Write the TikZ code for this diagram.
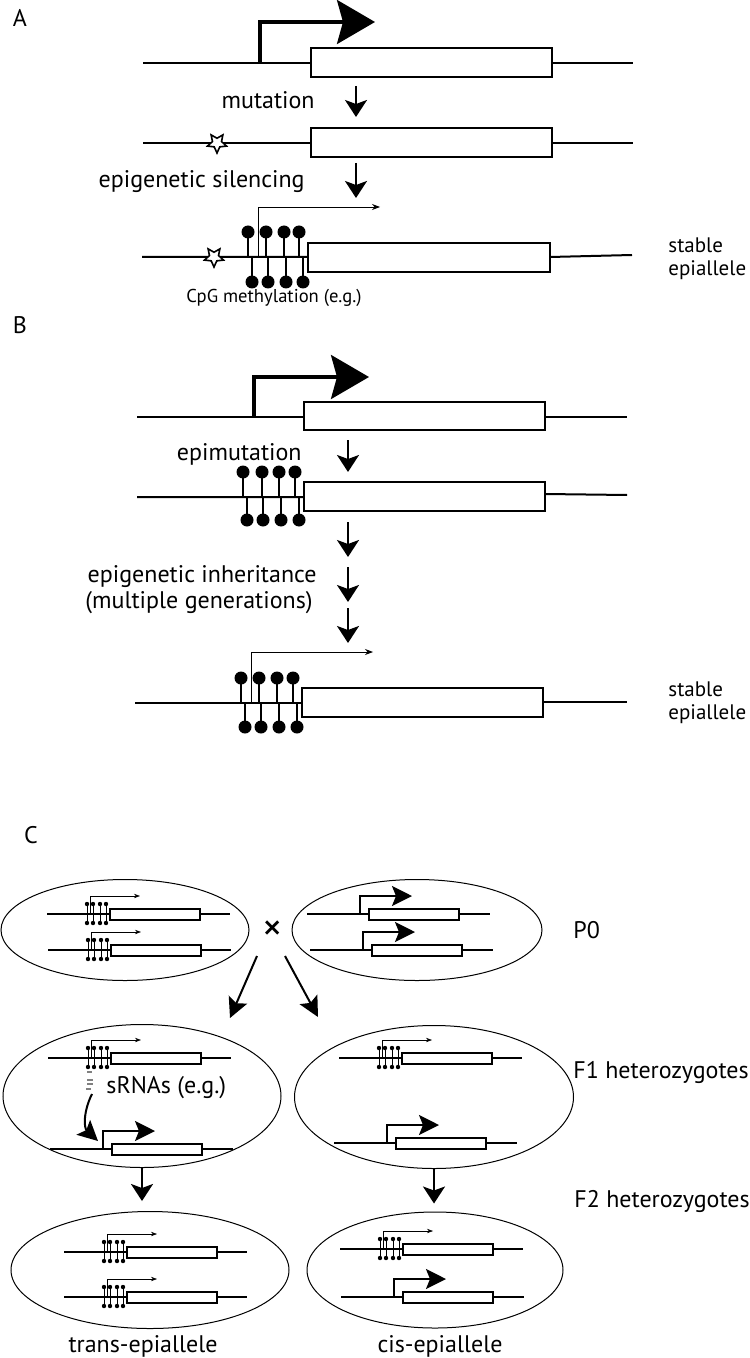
\documentclass[tikz,border=0pt]{standalone}
\usepackage{fontspec}
\setmainfont{PT Sans}
\usetikzlibrary{arrows.meta,shapes.geometric}

\tikzset{
  dna/.style={line width=1pt},
  exon/.style={draw,line width=1.3pt,fill=white},
  stem/.style={line width=1pt},
  stagearrow/.style={line width=1pt,-{Stealth[length=8.5pt,width=11pt,inset=2pt]}},
  bigprom/.style={line width=1.7pt,-{Stealth[length=19pt,width=22pt,inset=3pt]}},
  thinprom/.style={line width=0.4pt,-{Stealth[length=4pt,width=3pt]}},
  mutstar/.style={star,star points=5,star point ratio=2.1,draw,fill=white,
    line width=0.8pt,minimum size=10pt,inner sep=0pt,shape border rotate=180},
  lbl/.style={font=\fontsize{12}{11.5}\selectfont,inner sep=0pt},
  sidelbl/.style={font=\fontsize{10.5}{11.5}\selectfont,inner sep=0pt},
  smalllbl/.style={font=\fontsize{9.3}{11}\selectfont,inner sep=0pt},
  cell/.style={ellipse,draw,line width=0.5pt,inner sep=0pt},
  smalldna/.style={line width=0.9pt},
  smallexon/.style={draw,line width=1pt,fill=white},
  smallstem/.style={line width=0.5pt},
  tinyprom/.style={line width=0.3pt,-{Stealth[length=3pt,width=2.2pt]}},
  smallprom/.style={line width=1pt,-{Stealth[length=10pt,width=10pt,inset=2pt]}},
  crossarrow/.style={line width=1pt,-{Stealth[length=10pt,width=10pt,inset=2pt]}}
}

% methylated allele, box left at #1, line at #2
\newcommand{\silentgene}[2]{%
  \draw[smalldna] ({#1-63},#2) -- ({#1+120},#2);
  \foreach \d in {-23,-17,-10,-4}{
    \draw[smallstem] ({#1+\d},{#2-10}) -- ({#1+\d},{#2+9});
    \fill ({#1+\d},{#2-10}) circle (2.2);
    \fill ({#1+\d},{#2+9}) circle (2.2);
  }
  \draw[smallexon] (#1,{#2-5.5}) rectangle ({#1+90},{#2+5.5});
  \draw[tinyprom] ({#1-20},#2) -- ({#1-20},{#2-18}) -- ({#1+30},{#2-18});
}
% active allele
\newcommand{\activegene}[2]{%
  \draw[smalldna] ({#1-62},#2) -- ({#1+121},#2);
  \draw[smallexon] (#1,{#2-5.5}) rectangle ({#1+90},{#2+5.5});
  \draw[smallprom] ({#1-9},#2) -- ({#1-9},{#2-18}) -- ({#1+43},{#2-18});
}

\begin{document}
\begin{tikzpicture}[x=0.5pt,y=-0.5pt]
  \useasboundingbox (0,0) rectangle (749,1358);

  % A
  \node[lbl] (pa) at (20,18) {A};
  \draw[dna] (143,63) -- (311,63) (552,63) -- (633,63);
  \draw[exon] (311,48) rectangle (552,77);
  \draw[bigprom] (260,63) -- (260,22) -- (375,22);

  \coordinate (a1s) at (356,86);
  \coordinate (a1e) at (356,117);
  \draw[stagearrow] (a1s) -- (a1e);
  \node[lbl,anchor=base east] (mut) at (315,109) {mutation};

  \draw[dna] (143,143) -- (311,143) (552,143) -- (633,143);
  \draw[exon] (311,128) rectangle (552,157);
  \node[mutstar] (star1) at (217,143) {};

  \coordinate (a2s) at (356,163);
  \coordinate (a2e) at (356,198);
  \draw[stagearrow] (a2s) -- (a2e);
  \node[lbl,anchor=base east] (sil) at (305,188) {epigenetic silencing};

  \draw[dna] (142,257) -- (308,257) (550,257) -- (632,255);
  \draw[thinprom] (258,257) -- (258,207) -- (380,207);
  \foreach \x in {248,266,284,299}{
    \draw[stem] (\x,257) -- (\x,232);
    \fill (\x,232) circle (6.5);
  }
  \foreach \x in {252,268,286,303}{
    \draw[stem] (\x,257) -- (\x,282);
    \fill (\x,282) circle (6.5);
  }
  \draw[exon] (308,243) rectangle (550,272);
  \node[mutstar] (star2) at (214,257) {};
  \node[smalllbl,anchor=base] (cpg) at (274,303) {CpG methylation (e.g.)};
  \node[sidelbl,align=left,anchor=west] (epiA) at (668,259) {stable\\epiallele};

  % B
  \node[lbl] (pb) at (20,325) {B};
  \draw[dna] (137,417) -- (304,417) (545,417) -- (627,417);
  \draw[exon] (304,402) rectangle (545,430);
  \draw[bigprom] (254,417) -- (254,377) -- (369,377);

  \coordinate (b1s) at (348,440);
  \coordinate (b1e) at (348,472);
  \draw[stagearrow] (b1s) -- (b1e);
  \node[lbl,anchor=base east] (epimut) at (302,460) {epimutation};

  \draw[dna] (137,497) -- (304,497) (545,494) -- (627,495);
  \foreach \x in {243,262,279,295}{
    \draw[stem] (\x,497) -- (\x,472);
    \fill (\x,472) circle (6.5);
  }
  \foreach \x in {247,263,281,299}{
    \draw[stem] (\x,497) -- (\x,520);
    \fill (\x,520) circle (6.5);
  }
  \draw[exon] (304,482) rectangle (545,511);

  \foreach \s/\e [count=\i] in {522/557,567/602,608/643}{
    \coordinate (g\i s) at (348,\s);
    \coordinate (g\i e) at (348,\e);
    \draw[stagearrow] (g\i s) -- (g\i e);
  }
  \node[lbl,anchor=base east] (inh1) at (317,582) {epigenetic inheritance};
  \node[lbl,anchor=base east] (inh2) at (313,608) {(multiple generations)};

  \draw[dna] (135,703) -- (302,703) (543,702) -- (627,702);
  \draw[thinprom] (251,703) -- (251,652) -- (373,652);
  \foreach \x in {241,259,277,293}{
    \draw[stem] (\x,703) -- (\x,678);
    \fill (\x,678) circle (6.5);
  }
  \foreach \x in {245,261,279,297}{
    \draw[stem] (\x,703) -- (\x,727);
    \fill (\x,727) circle (6.5);
  }
  \draw[exon] (302,688) rectangle (543,717);
  \node[sidelbl,align=left,anchor=west] (epiB) at (668,703) {stable\\epiallele};

  % C
  \node[lbl] (pc) at (31,835) {C};
  \node[cell,minimum width=124pt,minimum height=50.5pt] (p0l) at (125,930) {};
  \node[cell,minimum width=125pt,minimum height=50.5pt] (p0r) at (417,930) {};
  \node[cell,minimum width=139pt,minimum height=71.5pt] (f1l) at (142,1096) {};
  \node[cell,minimum width=139.5pt,minimum height=71.5pt] (f1r) at (434,1097) {};
  \node[cell,minimum width=139pt,minimum height=58.5pt] (f2l) at (150,1270) {};
  \node[cell,minimum width=128pt,minimum height=58pt] (f2r) at (435,1270) {};

  \silentgene{110}{914}
  \silentgene{111}{950}
  \activegene{369}{914}
  \activegene{372}{950}
  \node[font=\fontsize{20}{20}\selectfont,inner sep=0pt] (cross) at (273,931) {×};
  \node[lbl,anchor=base west] (p0) at (573,938) {P0};

  \coordinate (xl) at (257,956);
  \coordinate (xr) at (285,956);
  \coordinate (f1lin) at (230,1018);
  \coordinate (f1rin) at (318,1017);
  \draw[crossarrow] (xl) -- (f1lin);
  \draw[crossarrow] (xr) -- (f1rin);

  \silentgene{111}{1058}
  \activegene{112}{1149}
  \silentgene{402}{1058}
  \activegene{396}{1143}
  % sRNAs
  \draw[gray,line width=0.6pt] (87,1072) -- (92,1072) (87,1080) -- (93,1080)
    (87,1084) -- (93,1084) (86,1089) -- (91,1089);
  \node[lbl,anchor=base west] (srna) at (106,1093) {sRNAs (e.g.)};
  \draw[crossarrow] (92,1094) .. controls (83,1112) and (84,1128) .. (98,1141);
  \node[lbl,anchor=base west] (f1) at (573,1078) {F1 heterozygotes};

  \draw[stagearrow,shorten >=5pt] (f1l.south) -- (f2l.north -| f1l.south);
  \draw[stagearrow,shorten >=4pt] (f1r.south) -- (f2r.north -| f1r.south);

  \silentgene{127}{1252}
  \silentgene{127}{1297}
  \silentgene{403}{1249}
  \activegene{403}{1297}
  \node[lbl,anchor=base west] (f2) at (574,1207) {F2 heterozygotes};
  \node[lbl,anchor=base] (trans) at (143,1352) {trans-epiallele};
  \node[lbl,anchor=base] (cis) at (440,1352) {cis-epiallele};
\end{tikzpicture}
\end{document}
